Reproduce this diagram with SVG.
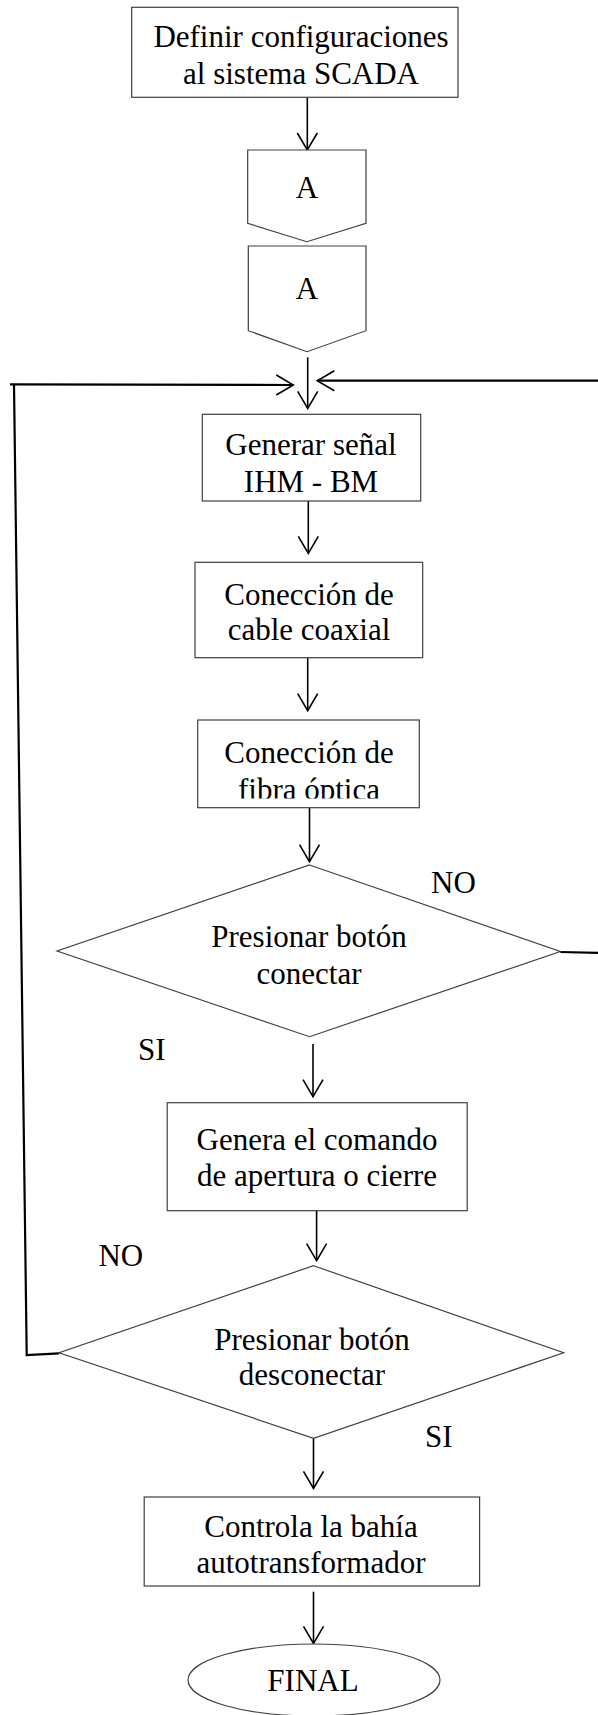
<svg xmlns="http://www.w3.org/2000/svg" width="598" height="1715" viewBox="0 0 598 1715">
<style>
.box{fill:#fff;stroke:#404040;stroke-width:1.2}
.t{font-family:"Liberation Serif","Times New Roman",serif;font-size:31px;fill:#000;text-anchor:middle}
.l{font-family:"Liberation Serif","Times New Roman",serif;font-size:31px;fill:#000}
.c{fill:none;stroke:#000;stroke-width:1.6}
.loop{fill:none;stroke:#000;stroke-width:2.2}
</style>
<defs>
<marker id="ah" markerUnits="userSpaceOnUse" markerWidth="20" markerHeight="22" refX="17" refY="10" orient="auto" overflow="visible">
<path d="M0,0 L17,10 L0,20" fill="none" stroke="#000" stroke-width="1.6"/>
</marker>
<clipPath id="clipFibra"><rect x="197" y="720" width="223" height="78.5"/></clipPath>
</defs>
<rect width="598" height="1715" fill="#fff"/>
<g id="connectors">
<line class="c" x1="307.3" y1="97.3" x2="307.3" y2="150" marker-end="url(#ah)"/>
<line class="c" x1="307.7" y1="357.3" x2="307.7" y2="408.3" marker-end="url(#ah)"/>
<polyline class="loop" points="59.1,1353.3 26.7,1355 14,384.3"/>
<line class="loop" x1="10" y1="384.3" x2="293.3" y2="385" marker-end="url(#ah)"/>
<line class="loop" x1="600" y1="380.7" x2="317.3" y2="380.7" marker-end="url(#ah)"/>
<line class="loop" x1="560.3" y1="952" x2="600" y2="953"/>
<line class="c" x1="308.3" y1="501" x2="308.3" y2="553.3" marker-end="url(#ah)"/>
<line class="c" x1="307.7" y1="657.7" x2="307.7" y2="710.7" marker-end="url(#ah)"/>
<line class="c" x1="309.5" y1="807.7" x2="309.5" y2="861.7" marker-end="url(#ah)"/>
<line class="c" x1="313" y1="1044" x2="313" y2="1096.7" marker-end="url(#ah)"/>
<line class="c" x1="316.6" y1="1208.3" x2="316.6" y2="1260.7" marker-end="url(#ah)"/>
<line class="c" x1="313.5" y1="1438.3" x2="313.5" y2="1488.3" marker-end="url(#ah)"/>
<line class="c" x1="313.5" y1="1591.7" x2="313.5" y2="1643.3" marker-end="url(#ah)"/>
</g>
<g id="n-definir">
<rect class="box" x="131.7" y="7.3" width="326.3" height="90"/>
<text class="t" x="301" y="47">Definir configuraciones</text>
<text class="t" x="301" y="83.5">al sistema SCADA</text>
</g>
<g id="n-a1">
<polygon class="box" points="247.7,150 366,150 366,223.3 306.8,241.7 247.7,223.3"/>
<text class="t" x="307" y="198">A</text>
</g>
<g id="n-a2">
<polygon class="box" points="248.3,246 366,246 366,330.7 307,351.7 248.3,330.7"/>
<text class="t" x="307" y="299.3">A</text>
</g>
<g id="n-generar">
<rect class="box" x="202.3" y="414.3" width="218.4" height="86.7"/>
<text class="t" x="311" y="455">Generar señal</text>
<text class="t" x="311" y="491.7">IHM - BM</text>
</g>
<g id="n-coaxial">
<rect class="box" x="195" y="562.3" width="227.7" height="95.4"/>
<text class="t" x="309" y="605">Conección de</text>
<text class="t" x="309" y="640">cable coaxial</text>
</g>
<g id="n-fibra">
<rect class="box" x="197.7" y="720" width="221.6" height="87.7"/>
<text class="t" x="309" y="762.7">Conección de</text>
<text class="t" x="309" y="799.5" clip-path="url(#clipFibra)">fibra óptica</text>
</g>
<g id="n-conectar">
<polygon class="box" points="309.5,865 560.3,951.5 309.5,1036.7 57.1,951"/>
<text class="t" x="309" y="947.3">Presionar botón</text>
<text class="t" x="309" y="984">conectar</text>
</g>
<g id="n-comando">
<rect class="box" x="167.2" y="1102.7" width="300" height="108"/>
<text class="t" x="317" y="1150">Genera el comando</text>
<text class="t" x="317" y="1185.5">de apertura o cierre</text>
</g>
<g id="n-desconectar">
<polygon class="box" points="313.5,1265.7 563.7,1352.7 313.5,1438.3 59.1,1352.7"/>
<text class="t" x="312" y="1349.5">Presionar botón</text>
<text class="t" x="312" y="1385">desconectar</text>
</g>
<g id="n-controla">
<rect class="box" x="144.2" y="1497" width="335.4" height="89"/>
<text class="t" x="311" y="1537.3">Controla la bahía</text>
<text class="t" x="311" y="1573.3">autotransformador</text>
</g>
<g id="n-final">
<ellipse class="box" cx="314" cy="1680" rx="126" ry="36"/>
<text class="t" x="313" y="1691">FINAL</text>
</g>
<g id="labels">
<text class="l" x="431" y="893.3">NO</text>
<text class="l" x="138" y="1060">SI</text>
<text class="l" x="98.4" y="1266">NO</text>
<text class="l" x="425" y="1447">SI</text>
</g>
</svg>
